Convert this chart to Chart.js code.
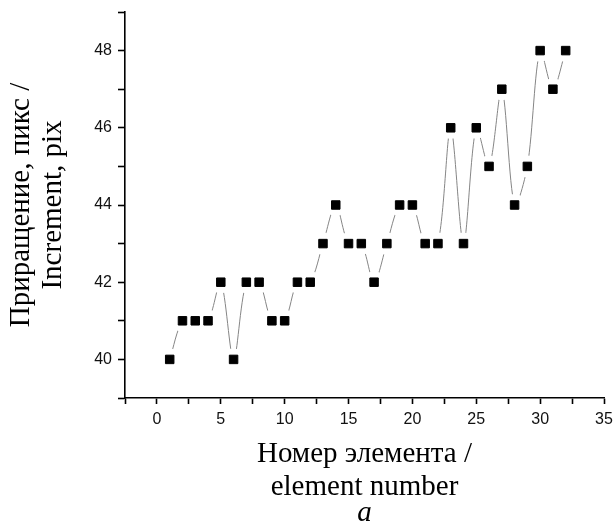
<!DOCTYPE html>
<html>
<head>
<meta charset="utf-8">
<script src="https://cdn.jsdelivr.net/npm/chart.js@4/dist/chart.umd.min.js"></script>
<style>
  html, body { margin: 0; padding: 0; background: #fff; }
  #wrap { width: 615px; height: 531px; }
</style>
</head>
<body>
<div id="wrap"><canvas id="chart" width="615" height="531"></canvas></div>
<script>
// ── DATA ─────────────────────────────────────────────────────────────────────
const elementNumbers = [1, 2, 3, 4, 5, 6, 7, 8, 9, 10, 11, 12, 13, 14, 15, 16,
  17, 18, 19, 20, 21, 22, 23, 24, 25, 26, 27, 28, 29, 30, 31, 32];
const increments = [40, 41, 41, 41, 42, 40, 42, 42, 41, 41, 42, 42, 43, 44, 43, 43,
  42, 43, 44, 44, 43, 43, 46, 43, 46, 45, 47, 44, 45, 48, 47, 48];
const xTitle = ['Номер элемента /', 'element number'];
const yTitle = ['Приращение, пикс /', 'Increment, pix'];
const panelLabel = 'a';

const points = elementNumbers.map((x, i) => ({ x, y: increments[i] }));

// ── CHART ────────────────────────────────────────────────────────────────────
const serif = "'Liberation Serif', 'Times New Roman', serif";
const sans = "'Liberation Sans', Arial, sans-serif";

// italic panel letter, centred under the plot area
const panelLetter = {
  id: 'panelLetter',
  afterDraw(chart) {
    const { ctx, chartArea } = chart;
    ctx.save();
    ctx.font = 'italic 29px ' + serif;
    ctx.fillStyle = '#000';
    ctx.textAlign = 'center';
    ctx.textBaseline = 'alphabetic';
    ctx.fillText(panelLabel, (chartArea.left + chartArea.right) / 2, 521);
    ctx.restore();
  }
};

new Chart(document.getElementById('chart').getContext('2d'), {
  type: 'line',
  data: {
    datasets: [
      { // thin spline behind everything
        data: points, order: 2,
        borderColor: '#858585', borderWidth: 1, tension: 0.3,
        pointRadius: 0, fill: false
      },
      { // white halo so the line stops short of each marker
        data: points, order: 1, showLine: false,
        pointStyle: 'circle', pointRadius: 11,
        pointBackgroundColor: '#fff', pointBorderWidth: 0, pointBorderColor: '#fff'
      },
      { // square markers
        data: points, order: 0, showLine: false,
        pointStyle: 'rect', pointRadius: 6,
        pointBackgroundColor: '#000', pointBorderColor: '#000', pointBorderWidth: 1
      }
    ]
  },
  plugins: [panelLetter],
  options: {
    responsive: false, animation: false, events: [],
    layout: { padding: { left: 0, top: 12, right: 11, bottom: 27 } },
    plugins: { legend: { display: false }, tooltip: { enabled: false } },
    scales: {
      x: {
        type: 'linear', min: -2.5, max: 35,
        afterFit: s => { s.height = 106; s.paddingLeft = 0; s.paddingRight = 0; },
        border: { display: true, color: '#000', width: 1.6 },
        grid: { drawOnChartArea: false, tickLength: 6, color: '#000', tickWidth: 1.6 },
        ticks: {
          stepSize: 2.5, color: '#111', padding: 6, maxRotation: 0, autoSkip: false,
          font: { family: sans, size: 16 },
          callback: v => (v >= 0 && v % 5 === 0) ? v : ''
        },
        title: {
          display: true, text: xTitle, color: '#000',
          font: { family: serif, size: 29, lineHeight: 1.15 },
          padding: { top: 0, bottom: 0 }
        }
      },
      y: {
        type: 'linear', min: 39, max: 49,
        afterFit: s => { s.width = 125; s.paddingTop = 0; s.paddingBottom = 0; },
        border: { display: true, color: '#000', width: 1.6 },
        grid: { drawOnChartArea: false, tickLength: 7, color: '#000', tickWidth: 1.6 },
        ticks: {
          stepSize: 1, color: '#111', padding: 6, autoSkip: false,
          font: { family: sans, size: 16 },
          callback: v => (v >= 40 && v <= 48 && v % 2 === 0) ? v : ''
        },
        title: {
          display: true, text: yTitle, color: '#000',
          font: { family: serif, size: 29, lineHeight: 1.12 },
          padding: { top: 5, bottom: 0 }
        }
      }
    }
  }
});
</script>
</body>
</html>
